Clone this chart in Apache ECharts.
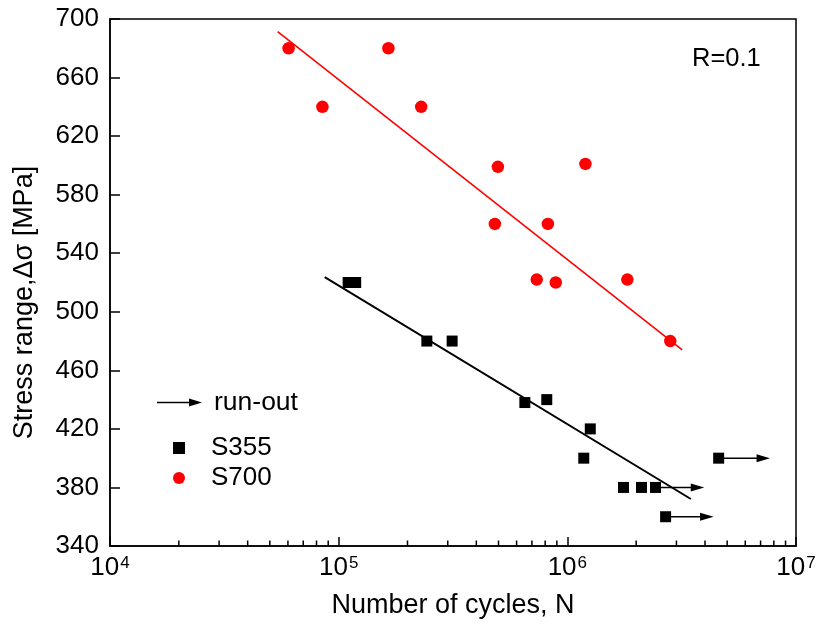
<!DOCTYPE html>
<html>
<head>
<meta charset="utf-8">
<script src="https://cdn.jsdelivr.net/npm/echarts@6/dist/echarts.min.js"></script>
<style>
  html, body { margin: 0; padding: 0; background: #fff; }
  #chart { width: 817px; height: 629px; }
</style>
</head>
<body>
<div id="chart"></div>
<script>
const FONT = '"Liberation Sans", Arial, Helvetica, sans-serif';

// S355 specimens: number of cycles and stress range [MPa]
const s355Cycles = [110000, 118700, 243000, 313500, 652000, 813000, 1260000, 1180000, 1760000, 2110000, 2430000, 2690000, 4590000];
const s355Stress = [520, 520, 480, 480, 438, 440, 420, 400, 380, 380, 380, 360, 400];

// S700 specimens
const s700Cycles = [60400, 84900, 165000, 229600, 497000, 482000, 735000, 822000, 890000, 1200000, 1830000, 2820000];
const s700Stress = [680, 640, 680, 640, 599, 560, 522, 560, 520, 601, 522, 480];

// Run-out specimens: start of the arrow, stress level, arrow tip
const runoutStart = [2430000, 2690000, 4590000];
const runoutStress = [380, 360, 400];
const runoutEnd = [3970000, 4360000, 7700000];

// Fitted S-N curves (end points)
const fitS355Cycles = [86900, 3470000];
const fitS355Stress = [523.6, 372.1];
const fitS700Cycles = [54100, 3180000];
const fitS700Stress = [691.3, 473.9];

// Axis ticks
const yTicks = [340, 380, 420, 460, 500, 540, 580, 620, 660, 700];
const xDecades = [4, 5, 6, 7];
const minorMultipliers = [2, 3, 4, 5, 6, 7, 8, 9];
const Y_MIN = 340, Y_MAX = 700;

const zip = (a, b) => a.map((v, i) => [v, b[i]]);

// minor tick positions (cycles) between the decades of the log axis
const minorTickCycles = [];
xDecades.slice(0, -1).forEach(d => {
  minorMultipliers.forEach(m => minorTickCycles.push(m * Math.pow(10, d)));
});

const arrowIcon = 'path://M0,3.25 L32,3.25 L32,0 L45,4 L32,8 L32,4.75 L0,4.75 Z';

const chart = echarts.init(document.getElementById('chart'), null, { renderer: 'canvas' });

const option = {
  backgroundColor: '#fff',
  animation: false,
  textStyle: { fontFamily: FONT },
  title: {
    text: 'R=0.1',
    left: 687,
    top: 41,
    textStyle: { fontFamily: FONT, fontSize: 25.5, fontWeight: 'normal', color: '#000' }
  },
  grid: {
    left: 110, right: 21, top: 19, bottom: 83,
    outerBoundsMode: 'none',
    containLabel: false,
    show: true,
    borderColor: '#000',
    borderWidth: 1.5,
    backgroundColor: 'transparent'
  },
  legend: [
    {
      data: [{ name: 'run-out', icon: arrowIcon }],
      left: 152, top: 384,
      itemWidth: 45, itemHeight: 8,
      selectedMode: false,
      textStyle: { fontFamily: FONT, fontSize: 26.5, color: '#000', padding: [0, 0, 0, 7] }
    },
    {
      data: ['S355', 'S700'],
      orient: 'vertical',
      left: 168, top: 430,
      itemWidth: 12, itemHeight: 12, itemGap: 4,
      selectedMode: false,
      textStyle: { fontFamily: FONT, fontSize: 26, color: '#000', padding: [0, 0, 0, 21] }
    }
  ],
  xAxis: {
    type: 'log',
    logBase: 10,
    min: 1e4,
    max: 1e7,
    name: 'Number of cycles, N',
    nameLocation: 'middle',
    nameGap: 46,
    nameTextStyle: { fontFamily: FONT, fontSize: 27, color: '#000' },
    axisLine: { show: true, lineStyle: { color: '#000', width: 1.5 } },
    axisTick: { show: true, inside: true, length: 9, lineStyle: { color: '#000', width: 1.5 } },
    splitLine: { show: false },
    axisLabel: {
      color: '#000',
      margin: 9,
      formatter: function (v) {
        const e = Math.round(Math.log10(v));
        return '{b|10}{s|' + e + '}';
      },
      rich: {
        b: { fontFamily: FONT, fontSize: 26, color: '#000', verticalAlign: 'bottom', lineHeight: 26 },
        s: { fontFamily: FONT, fontSize: 17, color: '#000', verticalAlign: 'top', lineHeight: 17, padding: [0, 0, 13, 1] }
      }
    }
  },
  yAxis: {
    type: 'value',
    min: Y_MIN,
    max: Y_MAX,
    name: 'Stress range,\u0394\u03c3 [MPa]',
    nameLocation: 'middle',
    nameGap: 72,
    nameRotate: 90,
    nameTextStyle: { fontFamily: FONT, fontSize: 27, color: '#000', padding: [0, 40, 0, 0] },
    axisLine: { show: true, lineStyle: { color: '#000', width: 1.5 } },
    axisTick: { show: true, inside: true, length: 10, customValues: yTicks, lineStyle: { color: '#000', width: 1.5 } },
    splitLine: { show: false },
    axisLabel: {
      customValues: yTicks,
      fontFamily: FONT, fontSize: 26, color: '#000', margin: 11
    }
  },
  series: [
    {
      // minor ticks of the logarithmic cycle axis, drawn as one group
      name: 'minor ticks',
      type: 'custom',
      silent: true,
      clip: false,
      encode: { x: 0, y: 1 },
      data: [[1e5, Y_MIN]],
      z: 10,
      renderItem: function (params, api) {
        const children = minorTickCycles.map(n => {
          const p = api.coord([n, Y_MIN]);
          return {
            type: 'rect',
            shape: { x: p[0] - 0.75, y: p[1] - 5.5, width: 1.5, height: 5.5 },
            style: { fill: '#000' }
          };
        });
        return { type: 'group', children: children };
      }
    },
    {
      name: 'run-out',
      type: 'custom',
      itemStyle: { color: '#000' },
      encode: { x: 0, y: 1 },
      data: runoutStart.map((n, i) => [n, runoutStress[i], runoutEnd[i]]),
      z: 2,
      renderItem: function (params, api) {
        const p0 = api.coord([api.value(0), api.value(1)]);
        const p1 = api.coord([api.value(2), api.value(1)]);
        const headLen = 13.5, headHalf = 4;
        return {
          type: 'group',
          children: [
            {
              type: 'line',
              shape: { x1: p0[0], y1: p0[1], x2: p1[0] - headLen + 1, y2: p1[1] },
              style: { stroke: '#000', lineWidth: 1.5 }
            },
            {
              type: 'polygon',
              shape: { points: [[p1[0], p1[1]], [p1[0] - headLen, p1[1] - headHalf], [p1[0] - headLen, p1[1] + headHalf]] },
              style: { fill: '#000' }
            }
          ]
        };
      }
    },
    {
      name: 'S355 fit',
      type: 'line',
      data: zip(fitS355Cycles, fitS355Stress),
      symbol: 'none',
      lineStyle: { color: '#000', width: 2 },
      z: 1
    },
    {
      name: 'S700 fit',
      type: 'line',
      data: zip(fitS700Cycles, fitS700Stress),
      symbol: 'none',
      lineStyle: { color: '#ff0000', width: 1.6 },
      z: 1
    },
    {
      name: 'S355',
      type: 'scatter',
      symbol: 'rect',
      symbolSize: 11,
      itemStyle: { color: '#000', opacity: 1 },
      data: zip(s355Cycles, s355Stress),
      z: 3
    },
    {
      name: 'S700',
      type: 'scatter',
      symbol: 'circle',
      symbolSize: 12.5,
      itemStyle: { color: '#ff0000', opacity: 1 },
      data: zip(s700Cycles, s700Stress),
      z: 3
    }
  ]
};

chart.setOption(option);
</script>
</body>
</html>
